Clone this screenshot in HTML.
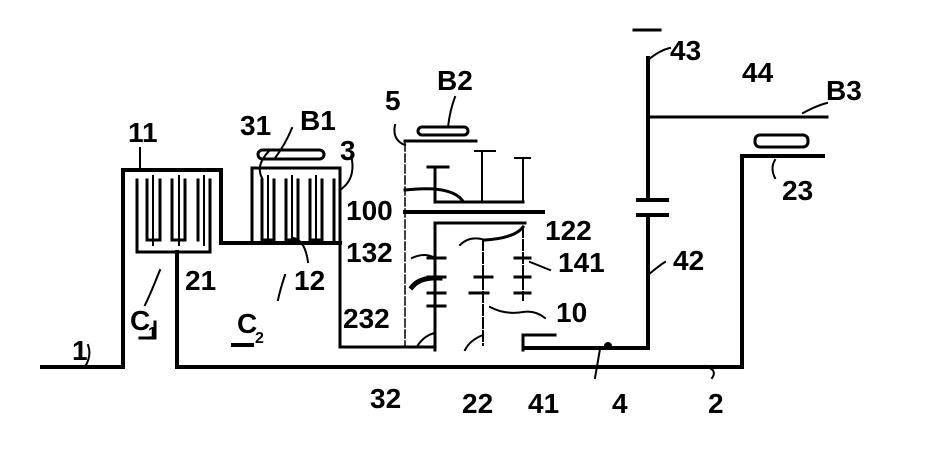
<!DOCTYPE html>
<html><head><style>
html,body{margin:0;padding:0;background:#fff;}
svg{display:block;}
text{font-family:"Liberation Sans",sans-serif;font-size:28px;font-weight:bold;fill:#000;}
</style></head><body>
<svg width="929" height="465" viewBox="0 0 929 465" xmlns="http://www.w3.org/2000/svg">
<g stroke="#000" fill="none" stroke-linecap="square">
<path d="M42 367 H123 V170 H221 V243 H340" stroke-width="4"/>
<path d="M252 168 H340 V347 H435" stroke-width="3"/>
<path d="M177 252 V367 H742 V156 H823" stroke-width="4"/>
<!-- C1 fingers (U shapes) -->
<path d="M137 180 V252 H210 V180" stroke-width="3"/>
<path d="M147 180 V240 H160 V180 M172 180 V240 H185 V180 M198 180 V240" stroke-width="3"/>
<path d="M153 176 V245 M179 176 V245 M204 176 V245" stroke-width="2"/>
<!-- C2 fingers -->
<path d="M252 168 V243" stroke-width="3"/>
<path d="M262 180 V240 H274 V180 M286 180 V240 H298 V180 M310 180 V240 H322 V180 M334 180 V240" stroke-width="3"/>
<path d="M268 176 V243 M292 176 V243 M316 176 V243" stroke-width="2"/>
<rect x="258" y="150" width="66" height="9" rx="4.5" stroke-width="3"/>
<rect x="418" y="127" width="50" height="8" rx="4" stroke-width="3"/>
<rect x="755" y="135" width="53" height="12" rx="5" stroke-width="3"/>
<path d="M405 141 H476" stroke-width="3"/>
<path d="M405 143 V345" stroke-width="1.5" stroke-dasharray="8 3"/>
<path d="M482 151 V202 M475 151 H495 M523 158 V202 M515 158 H530" stroke-width="2"/>
<path d="M428 167 H448 M435 167 V202 H523" stroke-width="3"/>
<path d="M405 190 Q450 185 462 200" stroke-width="3"/>
<path d="M405 212 H543" stroke-width="4"/>
<path d="M435 223 H525 M435 223 V350 M485 240 Q515 238 523 227" stroke-width="3"/>
<path d="M483 240 V345" stroke-width="2" stroke-dasharray="10 3"/>
<path d="M523 227 V300" stroke-width="2" stroke-dasharray="10 3"/>
<path d="M428 258 H445 M428 277 H445 M428 293 H445 M428 306 H445 M475 277 H492 M470 293 H488 M515 258 H530 M515 277 H530 M515 293 H530" stroke-width="3"/>
<path d="M412 287 Q420 277 440 278" stroke-width="5"/>
<path d="M523 335 H555 M523 335 V350" stroke-width="3"/>
<path d="M412 258 Q425 252 435 258 M460 245 Q470 235 485 240 M530 262 Q545 268 550 270 M490 307 Q505 315 523 312 Q535 310 545 318 M418 345 Q425 335 435 333 M465 350 Q470 340 483 335" stroke-width="2"/>
<path d="M525 348 H648 V215 M648 200 V58" stroke-width="4"/>
<path d="M638 200 H667 M638 215 H667" stroke-width="4"/>
<path d="M634 30 H660" stroke-width="3"/>
<path d="M651 117 H827" stroke-width="3"/>
<circle cx="608" cy="346" r="4" fill="#000" stroke="none"/>
<path d="M648 60 Q660 50 670 48 M648 275 Q660 265 665 262 M803 113 Q818 105 827 103 M775 160 Q770 168 775 178 M160 270 Q150 295 145 305 M285 275 Q280 290 278 300 M85 367 Q92 355 88 345 M140 148 V170 M292 128 Q285 145 275 158 M352 160 Q355 180 340 190 M395 125 Q392 140 405 145 M455 97 Q450 110 448 127 M270 150 Q255 165 262 178" stroke-width="2"/>
<path d="M293 238 Q305 240 308 262 M600 349 L595 378 M705 366 Q718 370 712 378" stroke-width="2"/>
<path d="M140 338 H155 V322" stroke-width="3"/>
<path d="M233 345 H252" stroke-width="4"/>
</g>
<text x="128" y="142">11</text>
<text x="240" y="135">31</text>
<text x="300" y="130">B1</text>
<text x="340" y="160">3</text>
<text x="385" y="110">5</text>
<text x="437" y="90">B2</text>
<text x="670" y="60">43</text>
<text x="742" y="82">44</text>
<text x="826" y="100">B3</text>
<text x="782" y="200">23</text>
<text x="346" y="220">100</text>
<text x="545" y="240">122</text>
<text x="346" y="262">132</text>
<text x="558" y="272">141</text>
<text x="673" y="270">42</text>
<text x="343" y="328">232</text>
<text x="556" y="322">10</text>
<text x="185" y="290">21</text>
<text x="294" y="290">12</text>
<text x="130" y="330">C</text>
<text x="148" y="338" style="font-size:16px">1</text>
<text x="237" y="333">C</text>
<text x="255" y="343" style="font-size:16px">2</text>
<text x="72" y="360">1</text>
<text x="370" y="408">32</text>
<text x="462" y="413">22</text>
<text x="528" y="413">41</text>
<text x="612" y="413">4</text>
<text x="708" y="413">2</text>
</svg>
</body></html>
